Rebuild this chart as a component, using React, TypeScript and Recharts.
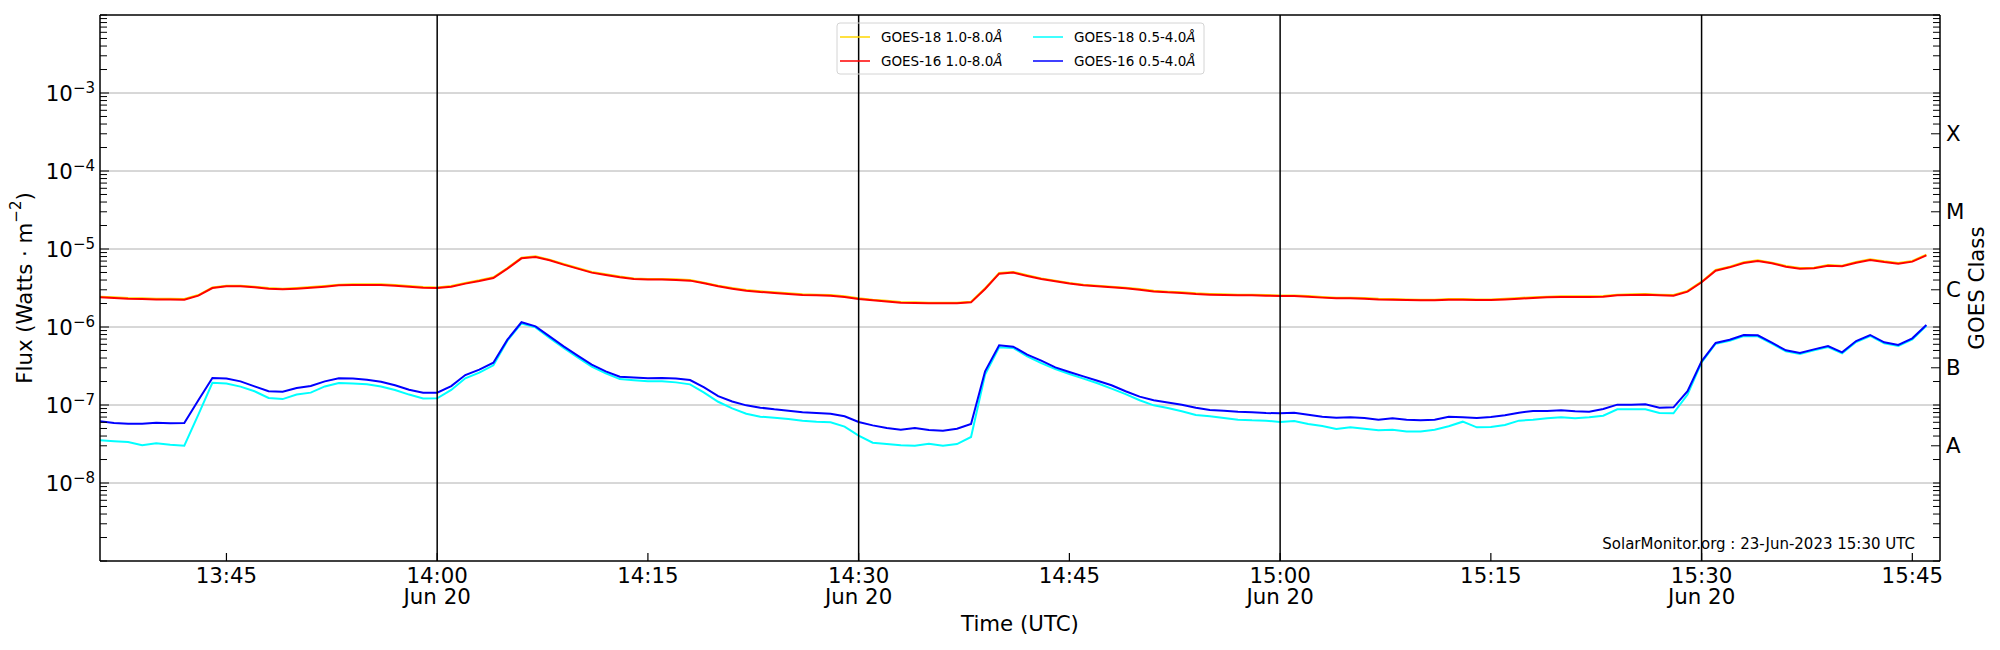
import { Legend, Line, LineChart, ReferenceLine, XAxis, YAxis } from "recharts";

// GOES X-ray flux (W/m^2), 1-minute cadence starting 13:36 UTC, 20-Jun-2023
const startMinute = 13 * 60 + 36;

const goes18Long = [
  2.45e-6, 2.41e-6, 2.36e-6, 2.34e-6, 2.31e-6, 2.31e-6, 2.29e-6, 2.57e-6, 3.22e-6, 3.39e-6, 3.39e-6, 3.29e-6, 3.16e-6, 3.1e-6, 3.16e-6, 3.25e-6, 3.36e-6, 3.49e-6, 3.52e-6,
  3.52e-6, 3.52e-6, 3.46e-6, 3.36e-6, 3.25e-6, 3.22e-6, 3.36e-6, 3.67e-6, 3.97e-6, 4.34e-6, 5.71e-6, 7.74e-6, 8.05e-6, 7.3e-6, 6.43e-6, 5.71e-6, 5.08e-6, 4.74e-6, 4.43e-6,
  4.2e-6, 4.13e-6, 4.13e-6, 4.09e-6, 4.01e-6, 3.7e-6, 3.39e-6, 3.16e-6, 2.98e-6, 2.87e-6, 2.78e-6, 2.7e-6, 2.62e-6, 2.6e-6, 2.57e-6, 2.48e-6, 2.34e-6, 2.24e-6, 2.17e-6,
  2.09e-6, 2.07e-6, 2.05e-6, 2.05e-6, 2.05e-6, 2.11e-6, 3.13e-6, 4.93e-6, 5.08e-6, 4.6e-6, 4.2e-6, 3.93e-6, 3.67e-6, 3.49e-6, 3.39e-6, 3.29e-6, 3.19e-6, 3.07e-6, 2.92e-6,
  2.84e-6, 2.78e-6, 2.7e-6, 2.65e-6, 2.62e-6, 2.6e-6, 2.6e-6, 2.57e-6, 2.54e-6, 2.54e-6, 2.5e-6, 2.43e-6, 2.38e-6, 2.38e-6, 2.36e-6, 2.31e-6, 2.29e-6, 2.26e-6,
  2.24e-6, 2.24e-6, 2.29e-6, 2.29e-6, 2.26e-6, 2.26e-6, 2.31e-6, 2.36e-6, 2.41e-6, 2.45e-6, 2.48e-6, 2.48e-6, 2.48e-6, 2.5e-6, 2.6e-6, 2.62e-6, 2.65e-6, 2.6e-6, 2.57e-6,
  2.9e-6, 3.81e-6, 5.38e-6, 5.94e-6, 6.75e-6, 7.16e-6, 6.68e-6, 6.06e-6, 5.71e-6, 5.76e-6, 6.23e-6, 6.12e-6, 6.81e-6, 7.37e-6, 6.95e-6, 6.62e-6, 7.03e-6, 8.47e-6,
];

const goes16Long = [
  2.4e-6, 2.36e-6, 2.31e-6, 2.29e-6, 2.26e-6, 2.26e-6, 2.24e-6, 2.52e-6, 3.16e-6, 3.32e-6, 3.32e-6, 3.23e-6, 3.1e-6, 3.04e-6, 3.1e-6, 3.19e-6, 3.29e-6, 3.42e-6, 3.45e-6,
  3.45e-6, 3.45e-6, 3.39e-6, 3.29e-6, 3.19e-6, 3.16e-6, 3.29e-6, 3.6e-6, 3.89e-6, 4.25e-6, 5.6e-6, 7.59e-6, 7.89e-6, 7.16e-6, 6.3e-6, 5.6e-6, 4.98e-6, 4.65e-6, 4.34e-6,
  4.12e-6, 4.05e-6, 4.05e-6, 4.01e-6, 3.93e-6, 3.63e-6, 3.32e-6, 3.1e-6, 2.92e-6, 2.81e-6, 2.73e-6, 2.65e-6, 2.57e-6, 2.55e-6, 2.52e-6, 2.43e-6, 2.29e-6, 2.2e-6, 2.13e-6,
  2.05e-6, 2.03e-6, 2.01e-6, 2.01e-6, 2.01e-6, 2.07e-6, 3.07e-6, 4.83e-6, 4.98e-6, 4.51e-6, 4.12e-6, 3.85e-6, 3.6e-6, 3.42e-6, 3.32e-6, 3.23e-6, 3.13e-6, 3.01e-6, 2.86e-6,
  2.78e-6, 2.73e-6, 2.65e-6, 2.6e-6, 2.57e-6, 2.55e-6, 2.55e-6, 2.52e-6, 2.49e-6, 2.49e-6, 2.45e-6, 2.38e-6, 2.33e-6, 2.33e-6, 2.31e-6, 2.26e-6, 2.24e-6, 2.22e-6,
  2.2e-6, 2.2e-6, 2.24e-6, 2.24e-6, 2.22e-6, 2.22e-6, 2.26e-6, 2.31e-6, 2.36e-6, 2.4e-6, 2.43e-6, 2.43e-6, 2.43e-6, 2.45e-6, 2.55e-6, 2.57e-6, 2.6e-6, 2.55e-6, 2.52e-6,
  2.84e-6, 3.74e-6, 5.27e-6, 5.82e-6, 6.62e-6, 7.02e-6, 6.55e-6, 5.94e-6, 5.6e-6, 5.65e-6, 6.11e-6, 6.0e-6, 6.68e-6, 7.23e-6, 6.81e-6, 6.49e-6, 6.89e-6, 8.3e-6,
];

const goes18Short = [
  3.52e-8, 3.42e-8, 3.35e-8, 3.04e-8, 3.23e-8, 3.1e-8, 3.01e-8, 7.52e-8, 1.93e-7, 1.88e-7, 1.72e-7, 1.5e-7, 1.23e-7, 1.19e-7, 1.36e-7, 1.44e-7, 1.73e-7, 1.91e-7, 1.88e-7,
  1.84e-7, 1.73e-7, 1.56e-7, 1.36e-7, 1.21e-7, 1.22e-7, 1.56e-7, 2.2e-7, 2.6e-7, 3.23e-7, 6.68e-7, 1.11e-6, 9.9e-7, 7.23e-7, 5.38e-7, 4.08e-7, 3.1e-7, 2.55e-7, 2.15e-7,
  2.07e-7, 2.01e-7, 2.01e-7, 1.95e-7, 1.84e-7, 1.44e-7, 1.1e-7, 9.06e-8, 7.74e-8, 7.09e-8, 6.88e-8, 6.61e-8, 6.3e-8, 6.11e-8, 5.99e-8, 5.28e-8, 4.04e-8, 3.29e-8, 3.16e-8,
  3.04e-8, 3.01e-8, 3.19e-8, 3.01e-8, 3.16e-8, 3.89e-8, 2.45e-7, 5.49e-7, 5.38e-7, 4.21e-7, 3.45e-7, 2.89e-7, 2.5e-7, 2.18e-7, 1.9e-7, 1.62e-7, 1.38e-7, 1.15e-7, 9.9e-8,
  9.15e-8, 8.3e-8, 7.44e-8, 7.16e-8, 6.81e-8, 6.49e-8, 6.36e-8, 6.3e-8, 6.05e-8, 6.24e-8, 5.71e-8, 5.38e-8, 4.92e-8, 5.17e-8, 4.97e-8, 4.73e-8, 4.83e-8, 4.59e-8,
  4.59e-8, 4.83e-8, 5.33e-8, 6.11e-8, 5.17e-8, 5.22e-8, 5.54e-8, 6.3e-8, 6.49e-8, 6.75e-8, 6.95e-8, 6.75e-8, 6.95e-8, 7.3e-8, 8.8e-8, 8.8e-8, 8.8e-8, 7.89e-8, 7.82e-8,
  1.36e-7, 3.52e-7, 6.11e-7, 6.68e-7, 7.67e-7, 7.59e-7, 6.11e-7, 4.88e-7, 4.51e-7, 5.02e-7, 5.54e-7, 4.59e-7, 6.42e-7, 7.67e-7, 6.17e-7, 5.71e-7, 6.95e-7, 1.04e-6,
];

const goes16Short = [
  6.17e-8, 5.88e-8, 5.76e-8, 5.76e-8, 5.94e-8, 5.82e-8, 5.88e-8, 1.15e-7, 2.22e-7, 2.18e-7, 2.01e-7, 1.73e-7, 1.5e-7, 1.48e-7, 1.65e-7, 1.75e-7, 2.01e-7, 2.2e-7, 2.18e-7,
  2.11e-7, 1.99e-7, 1.79e-7, 1.57e-7, 1.44e-7, 1.44e-7, 1.75e-7, 2.42e-7, 2.84e-7, 3.49e-7, 6.88e-7, 1.15e-6, 1.02e-6, 7.59e-7, 5.65e-7, 4.29e-7, 3.29e-7, 2.7e-7, 2.31e-7,
  2.26e-7, 2.2e-7, 2.22e-7, 2.18e-7, 2.09e-7, 1.68e-7, 1.3e-7, 1.11e-7, 9.9e-8, 9.24e-8, 8.8e-8, 8.46e-8, 8.05e-8, 7.89e-8, 7.74e-8, 7.16e-8, 6.05e-8, 5.48e-8, 5.07e-8,
  4.83e-8, 5.07e-8, 4.78e-8, 4.69e-8, 4.97e-8, 5.71e-8, 2.7e-7, 5.82e-7, 5.6e-7, 4.42e-7, 3.7e-7, 3.04e-7, 2.65e-7, 2.33e-7, 2.05e-7, 1.79e-7, 1.5e-7, 1.28e-7, 1.15e-7,
  1.08e-7, 1.01e-7, 9.24e-8, 8.63e-8, 8.46e-8, 8.21e-8, 8.05e-8, 7.89e-8, 7.82e-8, 7.97e-8, 7.52e-8, 7.09e-8, 6.88e-8, 6.95e-8, 6.81e-8, 6.49e-8, 6.75e-8, 6.49e-8,
  6.36e-8, 6.49e-8, 7.09e-8, 6.95e-8, 6.81e-8, 7.02e-8, 7.37e-8, 7.97e-8, 8.38e-8, 8.38e-8, 8.54e-8, 8.3e-8, 8.21e-8, 8.89e-8, 1.01e-7, 1.01e-7, 1.02e-7, 9.24e-8, 9.33e-8,
  1.5e-7, 3.63e-7, 6.24e-7, 6.88e-7, 7.9e-7, 7.82e-7, 6.3e-7, 5.02e-7, 4.64e-7, 5.17e-7, 5.71e-7, 4.73e-7, 6.61e-7, 7.9e-7, 6.36e-7, 5.88e-7, 7.16e-7, 1.06e-6,
];

const series = [
  { key: "g18l", name: "GOES-18 1.0-8.0", color: "#ffd700" },
  { key: "g16l", name: "GOES-16 1.0-8.0", color: "#ff0000" },
  { key: "g18s", name: "GOES-18 0.5-4.0", color: "#00ffff" },
  { key: "g16s", name: "GOES-16 0.5-4.0", color: "#0000ff" },
];

const timeTicks = [825, 840, 855, 870, 885, 900, 915, 930, 945];
const dayMarks = [840, 870, 900, 930];
const decades = [1e-8, 1e-7, 1e-6, 1e-5, 1e-4, 1e-3];
const classLabels = ["A", "B", "C", "M", "X"];
const classLevels = [3e-8, 3e-7, 3e-6, 3e-5, 3e-4];

const rows = goes16Long.map((_, i) => ({
  t: startMinute + i,
  g18l: goes18Long[i],
  g16l: goes16Long[i],
  g18s: goes18Short[i],
  g16s: goes16Short[i],
}));

// log minor ticks 2..9 x 10^n plus the decades
const logTicks: number[] = [];
for (let e = -9; e <= -3; e++) {
  for (let k = 1; k <= 9; k++) logTicks.push(k * Math.pow(10, e));
}
logTicks.push(1e-2);

const FONT = "'DejaVu Sans', sans-serif";
const FS = 21.33; // 16pt
const same = (a: number, b: number) => Math.abs(a / b - 1) < 1e-6;

const fmtTime = (m: number) =>
  `${Math.floor(m / 60)}:${String(m % 60).padStart(2, "0")}`;

function TimeTick({ x, y, payload }: any) {
  return (
    <g>
      <line x1={x} y1={y} x2={x} y2={y - 8} stroke="#000" strokeWidth={1.2} />
      <text x={x} y={y + 22} textAnchor="middle" fontSize={FS} fill="#000">
        {fmtTime(payload.value)}
      </text>
      {dayMarks.includes(payload.value) && (
        <text x={x} y={y + 43} textAnchor="middle" fontSize={FS} fill="#000">
          Jun 20
        </text>
      )}
    </g>
  );
}

function FluxTick({ x, y, payload }: any) {
  const v = payload.value;
  const major = decades.some((d) => same(d, v));
  const exp = Math.round(Math.log10(v));
  return (
    <g>
      <line x1={x} y1={y} x2={x + (major ? 9 : 7)} y2={y} stroke="#000" strokeWidth={1} />
      {major && (
        <text x={x - 5} y={y + 8} textAnchor="end" fontSize={FS} fill="#000">
          10
          <tspan dy={-8.5} fontSize={15}>{`\u2212${Math.abs(exp)}`}</tspan>
        </text>
      )}
    </g>
  );
}

function ClassTick({ x, y, payload }: any) {
  const v = payload.value;
  const idx = classLevels.findIndex((c) => same(c, v));
  return (
    <g>
      <line x1={x} y1={y} x2={x - (idx >= 0 ? 9 : 7)} y2={y} stroke="#000" strokeWidth={1} />
      {idx >= 0 && (
        <text x={x + 6} y={y + 7.5} fontSize={FS} fill="#000">
          {classLabels[idx]}
        </text>
      )}
    </g>
  );
}

function LegendBox() {
  const cols = [4, 197];
  const rowsY = [15, 39];
  return (
    <svg width={370} height={54} style={{ display: "block", fontFamily: FONT }}>
      <rect x={1} y={1} width={367} height={51} rx={3} fill="none" stroke="#d4d4d4" strokeWidth={1} />
      {series.map((s, i) => {
        const cx = cols[Math.floor(i / 2)];
        const cy = rowsY[i % 2];
        return (
          <g key={s.key}>
            <line x1={cx} y1={cy} x2={cx + 30} y2={cy} stroke={s.color} strokeWidth={1.5} />
            <text x={cx + 41} y={cy + 5} fontSize={13.5} fill="#000">
              {s.name}
              <tspan fontStyle="italic">Å</tspan>
            </text>
          </g>
        );
      })}
    </svg>
  );
}

export default function App() {
  return (
    <div
      style={{
        position: "absolute",
        left: 0,
        top: 0,
        width: 2000,
        height: 650,
        background: "#fff",
        fontFamily: FONT,
      }}
    >
      <LineChart width={2000} height={650} data={rows} margin={{ top: 15, right: 0, bottom: 0, left: 0 }}>
        <XAxis
          dataKey="t"
          type="number"
          domain={[816, 946.97]}
          allowDataOverflow
          ticks={timeTicks}
          interval={0}
          height={89}
          tickSize={0}
          tickMargin={0}
          tickLine={false}
          tick={TimeTick}
          axisLine={{ stroke: "#000", strokeWidth: 1.5 }}
          label={{
            content: ({ viewBox }: any) => (
              <g>
                <text
                  x={viewBox.x + viewBox.width / 2}
                  y={viewBox.y + 70}
                  textAnchor="middle"
                  fontSize={FS}
                  fill="#000"
                >
                  Time (UTC)
                </text>
                <text
                  x={viewBox.x + viewBox.width - 25}
                  y={viewBox.y - 12}
                  textAnchor="end"
                  fontSize={15}
                  fill="#000"
                >
                  SolarMonitor.org : 23-Jun-2023 15:30 UTC
                </text>
              </g>
            ),
          }}
        />
        <YAxis
          yAxisId="left"
          type="number"
          scale="log"
          domain={[1e-9, 1e-2]}
          allowDataOverflow
          ticks={logTicks}
          interval={0}
          width={100}
          tickSize={0}
          tickMargin={0}
          tickLine={false}
          tick={FluxTick}
          axisLine={{ stroke: "#000", strokeWidth: 1.5 }}
          label={{
            content: ({ viewBox }: any) => {
              const cx = viewBox.x + 24;
              const cy = viewBox.y + viewBox.height / 2;
              return (
                <text
                  x={cx}
                  y={cy}
                  transform={`rotate(-90, ${cx}, ${cy})`}
                  textAnchor="middle"
                  dominantBaseline="central"
                  fontSize={FS}
                  fill="#000"
                >
                  Flux (Watts · m<tspan dy={-8.5} fontSize={15}>−2</tspan>
                  <tspan dy={8.5}>)</tspan>
                </text>
              );
            },
          }}
        />
        <YAxis
          yAxisId="right"
          orientation="right"
          type="number"
          scale="log"
          domain={[1e-9, 1e-2]}
          allowDataOverflow
          ticks={logTicks}
          interval={0}
          width={60}
          tickSize={0}
          tickMargin={0}
          tickLine={false}
          tick={ClassTick}
          axisLine={{ stroke: "#000", strokeWidth: 1.5 }}
          label={{
            content: ({ viewBox }: any) => {
              const cx = viewBox.x + 36;
              const cy = viewBox.y + viewBox.height / 2;
              return (
                <text
                  x={cx}
                  y={cy}
                  transform={`rotate(-90, ${cx}, ${cy})`}
                  textAnchor="middle"
                  dominantBaseline="central"
                  fontSize={FS}
                  fill="#000"
                >
                  GOES Class
                </text>
              );
            },
          }}
        />
        {decades.map((d) => (
          <ReferenceLine key={d} yAxisId="left" y={d} stroke="#b0b0b0" strokeWidth={1} />
        ))}
        <ReferenceLine yAxisId="left" y={1e-2} stroke="#000" strokeWidth={1.5} />
        {series.map((s) => (
          <Line
            key={s.key}
            yAxisId="left"
            type="linear"
            dataKey={s.key}
            name={s.name}
            stroke={s.color}
            strokeWidth={2}
            dot={false}
            isAnimationActive={false}
          />
        ))}
        {dayMarks.map((m) => (
          <ReferenceLine key={m} yAxisId="left" x={m} stroke="#000" strokeWidth={1.5} />
        ))}
        <Legend
          layout="vertical"
          align="center"
          verticalAlign="middle"
          content={() => <LegendBox />}
          wrapperStyle={{ left: 836, top: 22, width: 370, height: 54 }}
        />
      </LineChart>
    </div>
  );
}
